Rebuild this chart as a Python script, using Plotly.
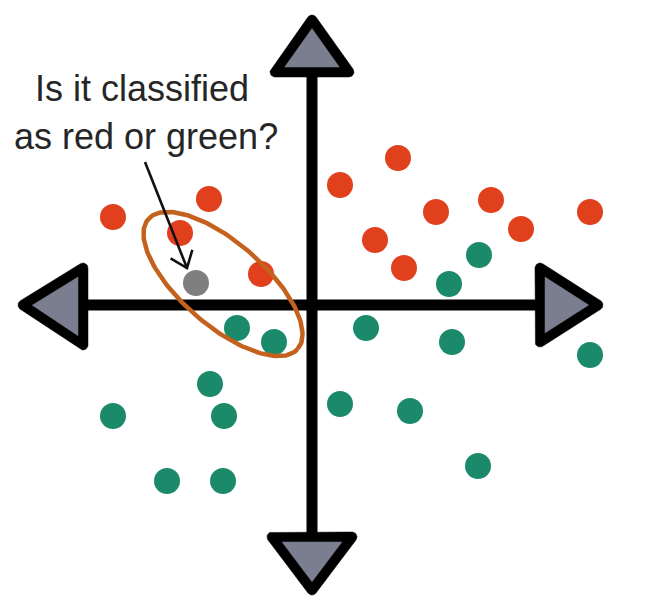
import numpy as np
import plotly.graph_objects as go

# ---- data (1 unit = 10 px, origin at axes crossing) ----
red_x = [-19.9, -10.3, -13.2, -5.1, 2.8, 8.6, 6.3, 12.4, 17.9, 20.9, 9.2, 27.8]
red_y = [8.8, 10.6, 7.2, 3.1, 12.0, 14.7, 6.5, 9.3, 10.5, 7.6, 3.7, 9.3]
green_x = [16.7, 13.7, -7.5, -3.8, 5.4, 14.0, 27.8, -10.2, -8.8, -19.9, 2.8, 9.8, 16.6, -14.5, -8.9]
green_y = [5.0, 2.1, -2.3, -3.7, -2.3, -3.7, -5.0, -7.9, -11.1, -11.1, -9.9, -10.6, -16.1, -17.6, -17.6]
gray_x = [-11.6]
gray_y = [2.2]

question_lines = ["Is it classified", "as red or green?"]

# axis arms and arrowhead triangles (decoration)
h_axis_x = [-22.9, 22.8]
v_axis_y = [-23.2, 23.3]
tri_top = ([0.0, -3.7, 3.7], [28.5, 23.3, 23.3])
tri_bottom = ([-4.0, 4.0, 0.0], [-23.2, -23.2, -28.5])
tri_right = ([22.8, 22.8, 28.6], [3.7, -3.7, 0.0])
tri_left = ([-22.9, -22.9, -28.9], [3.7, -4.0, 0.0])

# neighbourhood ellipse
ell_cx, ell_cy, ell_a, ell_b, ell_deg = -8.9, 2.1, 9.9, 4.15, -41.0
# pointer arrow
arrow_start = (-16.7, 14.3)
arrow_end = (-12.5, 3.7)

W, H = 647, 602
# page body has an 8px margin, so ranges are shifted to compensate
XR = [-30.4, 34.3]
YR = [-30.5, 29.7]

STROKE = 0.5  # half stroke width of arrowhead outline (units)


def tri_geometry(xs, ys, r):
    P = np.array(list(zip(xs, ys)), dtype=float)
    area = 0.0
    for i in range(3):
        a, b = P[i], P[(i + 1) % 3]
        area += a[0] * b[1] - b[0] * a[1]
    if area < 0:
        P = P[::-1]
    normals = []
    for i in range(3):
        e = P[(i + 1) % 3] - P[i]
        n = np.array([e[1], -e[0]]) / np.linalg.norm(e)
        normals.append(n)
    ox, oy = [], []
    for i in range(3):
        n_prev = normals[i - 1]
        n_next = normals[i]
        a0 = np.arctan2(n_prev[1], n_prev[0])
        a1 = np.arctan2(n_next[1], n_next[0])
        while a1 < a0:
            a1 += 2 * np.pi
        for a in np.linspace(a0, a1, 16):
            ox.append(P[i][0] + r * np.cos(a))
            oy.append(P[i][1] + r * np.sin(a))
    ox.append(ox[0]); oy.append(oy[0])
    ix, iy = [], []
    for i in range(3):
        n1, n2 = normals[i - 1], normals[i]
        p1 = P[i - 1] - r * n1
        d1 = P[i] - P[i - 1]
        p2 = P[i] - r * n2
        d2 = P[(i + 1) % 3] - P[i]
        A = np.array([d1, -d2]).T
        s = np.linalg.solve(A, p2 - p1)
        q = p1 + s[0] * d1
        ix.append(q[0]); iy.append(q[1])
    ix.append(ix[0]); iy.append(iy[0])
    return ox, oy, ix, iy


fig = go.Figure()

# axes
fig.add_trace(go.Scatter(x=h_axis_x, y=[0, 0], mode="lines",
                         line=dict(color="black", width=11), hoverinfo="skip"))
fig.add_trace(go.Scatter(x=[0, 0], y=v_axis_y, mode="lines",
                         line=dict(color="black", width=11), hoverinfo="skip"))
for tx, ty in (tri_top, tri_bottom, tri_right, tri_left):
    ox, oy, ix, iy = tri_geometry(tx, ty, STROKE)
    fig.add_trace(go.Scatter(x=ox, y=oy, mode="lines", fill="toself",
                             fillcolor="black", line=dict(color="black", width=0.5),
                             hoverinfo="skip"))
    fig.add_trace(go.Scatter(x=ix, y=iy, mode="lines", fill="toself",
                             fillcolor="#7b7e8f", line=dict(color="#7b7e8f", width=0.5),
                             hoverinfo="skip"))

# points
fig.add_trace(go.Scatter(x=red_x, y=red_y, mode="markers",
                         marker=dict(size=26, color="#e0401c", line=dict(width=0))))
fig.add_trace(go.Scatter(x=green_x, y=green_y, mode="markers",
                         marker=dict(size=26, color="#1b8a6b", line=dict(width=0))))
fig.add_trace(go.Scatter(x=gray_x, y=gray_y, mode="markers",
                         marker=dict(size=26, color="#7f7f7f", line=dict(width=0))))

# ellipse
t = np.linspace(0, 2 * np.pi, 200)
th = np.radians(ell_deg)
ex = ell_cx + ell_a * np.cos(t) * np.cos(th) - ell_b * np.sin(t) * np.sin(th)
ey = ell_cy + ell_a * np.cos(t) * np.sin(th) + ell_b * np.sin(t) * np.cos(th)
fig.add_trace(go.Scatter(x=ex, y=ey, mode="lines",
                         line=dict(color="#c4611d", width=4.5), hoverinfo="skip"))

# pointer arrow with open V head
sx, sy = arrow_start
qx, qy = arrow_end
d = np.array([qx - sx, qy - sy])
d = d / np.linalg.norm(d)
hl = 1.9
ang = np.radians(38)
rot = lambda v, a: np.array([v[0] * np.cos(a) - v[1] * np.sin(a), v[0] * np.sin(a) + v[1] * np.cos(a)])
l1 = np.array([qx, qy]) - hl * rot(d, ang)
l2 = np.array([qx, qy]) - hl * rot(d, -ang)
fig.add_trace(go.Scatter(x=[sx, qx], y=[sy, qy], mode="lines",
                         line=dict(color="#111111", width=2.6), hoverinfo="skip"))
fig.add_trace(go.Scatter(x=[l1[0], qx, l2[0]], y=[l1[1], qy, l2[1]], mode="lines",
                         line=dict(color="#111111", width=2.6), hoverinfo="skip"))

# question text
for txt, xx, yy in zip(question_lines, [-17.0, -16.6], [21.7, 16.9]):
    fig.add_annotation(x=xx, y=yy, text=txt, showarrow=False,
                       font=dict(family="Liberation Sans, Arial, sans-serif", size=36, color="#262626"),
                       xanchor="center", yanchor="middle")

fig.update_layout(
    width=W, height=H, margin=dict(l=0, r=0, t=0, b=0),
    paper_bgcolor="white", plot_bgcolor="white", showlegend=False,
    xaxis=dict(range=XR, visible=False, fixedrange=True),
    yaxis=dict(range=YR, visible=False, fixedrange=True),
)
fig.write_html("out.html")
